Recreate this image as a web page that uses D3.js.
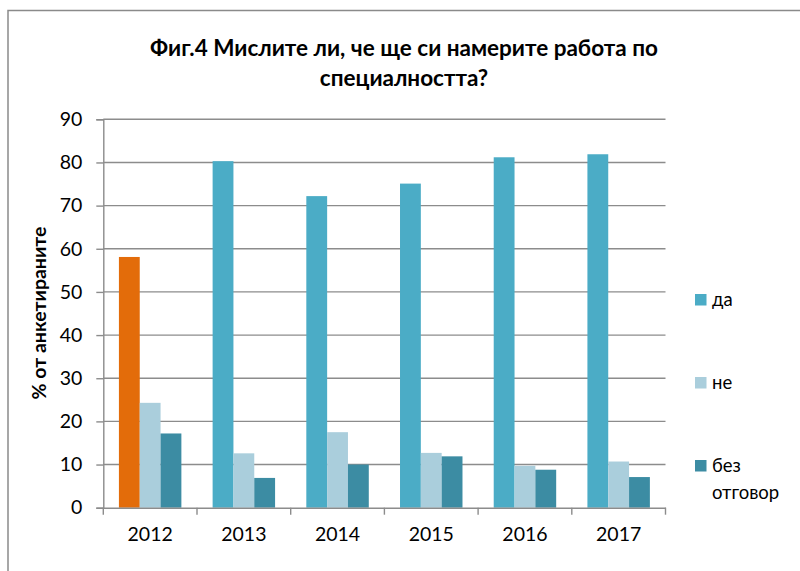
<!DOCTYPE html>
<html>
<head>
<meta charset="utf-8">
<script src="https://cdn.jsdelivr.net/npm/d3@7"></script>
<style>
  html, body { margin: 0; padding: 0; background: #fff; }
  svg { display: block; }
  text { font-family: Lato, "Open Sans", sans-serif; fill: #000; }
</style>
</head>
<body>
<svg id="chart" width="800" height="571"></svg>
<script>
const years = ["2012", "2013", "2014", "2015", "2016", "2017"];
const seriesNames = ["да", "не", "без отговор"];
const da = [58.1, 80.3, 72.2, 75.1, 81.2, 81.9];
const ne = [24.3, 12.6, 17.5, 12.7, 9.7, 10.7];
const bez = [17.2, 6.9, 10.0, 11.9, 8.8, 7.1];
const yTicks = [0, 10, 20, 30, 40, 50, 60, 70, 80, 90];
const titleLines = ["Фиг.4 Мислите ли, че ще си намерите работа по", "специалността?"];
const yTitle = "% от анкетираните";

const seriesValues = [da, ne, bez];
const colors = ["#4BACC6", "#AACEDC", "#3C8CA3"];
const highlightColor = "#E36C0A"; // 2012 "да" point

const svg = d3.select("#chart");

// outer frame
svg.append("rect")
  .attr("x", 8).attr("y", 10.5).attr("width", 900).attr("height", 700)
  .attr("fill", "none").attr("stroke", "#8a8a8a").attr("stroke-width", 1.5);

const plot = { left: 103.3, right: 665.5, top: 119.3, bottom: 507.7 };

const y = d3.scaleLinear().domain([0, 90]).range([plot.bottom, plot.top]);
const x = d3.scaleBand().domain(years).range([plot.left, plot.right]).padding(0);
const xs = d3.scaleBand().domain(d3.range(3)).range([0, x.bandwidth()])
  .paddingInner(0).paddingOuter(0.75);

// gridlines
svg.append("g").selectAll("line").data(yTicks.filter(t => t > 0)).join("line")
  .attr("x1", plot.left).attr("x2", plot.right)
  .attr("y1", d => y(d)).attr("y2", d => y(d))
  .attr("stroke", "#8c8c8c").attr("stroke-width", 1.4);

// bars
const data = [];
years.forEach((yr, i) => {
  seriesValues.forEach((vals, s) => {
    data.push({ yr, s, v: vals[i], color: (s === 0 && i === 0) ? highlightColor : colors[s] });
  });
});
svg.append("g").selectAll("rect").data(data).join("rect")
  .attr("x", d => x(d.yr) + xs(d.s))
  .attr("width", xs.bandwidth())
  .attr("y", d => y(d.v))
  .attr("height", d => y(0) - y(d.v))
  .attr("fill", d => d.color);

// y axis
const yAxis = d3.axisLeft(y).tickValues(yTicks).tickSize(7).tickPadding(14).tickFormat(d3.format("d"));
const gy = svg.append("g").attr("transform", `translate(${plot.left},0)`).call(yAxis);
gy.select(".domain").attr("stroke", "#8c8c8c").attr("stroke-width", 1.4);
gy.selectAll(".tick line").attr("stroke", "#8c8c8c").attr("stroke-width", 1.4);
gy.selectAll(".tick text").attr("font-family", "Lato, sans-serif").attr("font-size", 19.5).attr("fill", "#000");

// x axis
const xAxis = d3.axisBottom(x).tickSize(0).tickPadding(19);
const gx = svg.append("g").attr("transform", `translate(0,${plot.bottom})`).call(xAxis);
gx.select(".domain").attr("stroke", "#8c8c8c").attr("stroke-width", 1.4);
gx.selectAll(".tick text").attr("font-family", "Lato, sans-serif").attr("font-size", 19.5).attr("fill", "#000");
// category boundary ticks
const bounds = years.map(yv => x(yv)).concat([x(years[years.length - 1]) + x.bandwidth()]);
gx.append("g").selectAll("line").data(bounds).join("line")
  .attr("x1", d => d).attr("x2", d => d).attr("y1", 0).attr("y2", 7)
  .attr("stroke", "#8c8c8c").attr("stroke-width", 1.4);

// title
svg.append("g").selectAll("text").data(titleLines).join("text")
  .attr("x", 404).attr("y", (d, i) => 56 + i * 30)
  .attr("text-anchor", "middle").attr("font-weight", "bold").attr("font-size", 22.5)
  .text(d => d);

// y title
svg.append("text")
  .attr("transform", "translate(46,313) rotate(-90)")
  .attr("text-anchor", "middle").attr("font-weight", "bold").attr("font-size", 19.5)
  .text(yTitle);

// legend
const legendY = [300, 383, 466];
const lg = svg.append("g");
seriesNames.forEach((name, i) => {
  lg.append("rect").attr("x", 695).attr("y", legendY[i] - 6).attr("width", 11.5).attr("height", 11.5)
    .attr("fill", colors[i]);
  const words = name.split(" ");
  words.forEach((w, j) => {
    lg.append("text").attr("x", 712).attr("y", legendY[i] + 6 + j * 27)
      .attr("font-size", 18.5).text(w);
  });
});
</script>
</body>
</html>
